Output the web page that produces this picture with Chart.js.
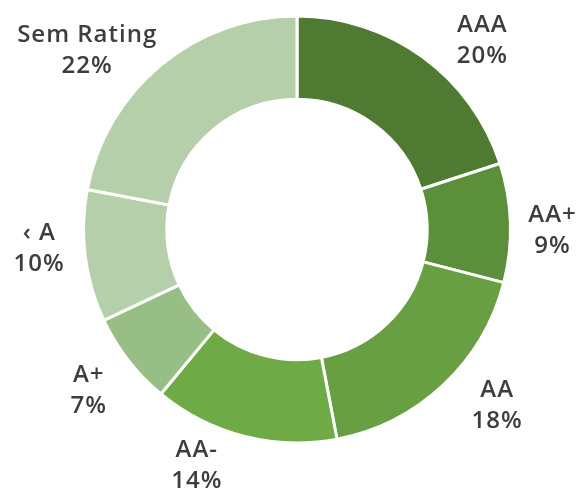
<!DOCTYPE html>
<html>
<head>
<meta charset="utf-8">
<script src="https://cdn.jsdelivr.net/npm/chart.js@4.4.1/dist/chart.umd.min.js"></script>
<style>
  html, body { margin: 0; padding: 0; background: #ffffff; }
  #wrap { width: 581px; height: 492px; position: relative; }
</style>
</head>
<body>
<div id="wrap"><canvas id="ratingChart" width="581" height="492"></canvas></div>
<script>
// Chart data
const categories = ['AAA', 'AA+', 'AA', 'AA-', 'A+', '‹ A', 'Sem Rating'];
const shares = [20, 9, 18, 14, 7, 10, 22];
const sliceColors = ['#4f7a31', '#5b8f39', '#679f42', '#6eab46', '#97bf85', '#b5cfaa', '#b5cfaa'];

// Outside labels: name on top, percent below, placed around each slice's middle angle
const outsideLabels = {
    id: 'outsideLabels',
    afterDatasetsDraw(chart, args, opts) {
        const ctx = chart.ctx;
        const meta = chart.getDatasetMeta(0);
        ctx.save();
        ctx.fillStyle = opts.color;
        ctx.font = opts.font;
        if ('letterSpacing' in ctx) ctx.letterSpacing = opts.spacing;
        ctx.textAlign = 'center';
        ctx.textBaseline = 'middle';
        meta.data.forEach((arc, i) => {
            const p = arc.getProps(['x', 'y', 'startAngle', 'endAngle', 'outerRadius'], true);
            const [turn, gap] = opts.offsets[i];
            const mid = (p.startAngle + p.endAngle) / 2 + turn * Math.PI / 180;
            const r = p.outerRadius + gap;
            const cx = p.x + Math.cos(mid) * r;
            const cy = p.y + Math.sin(mid) * r;
            ctx.fillText(categories[i], cx, cy - opts.lineGap / 2);
            ctx.fillText(shares[i] + '%', cx, cy + opts.lineGap / 2);
        });
        ctx.restore();
    }
};

const ctx = document.getElementById('ratingChart').getContext('2d');
new Chart(ctx, {
    type: 'doughnut',
    data: {
        labels: categories,
        datasets: [{
            data: shares,
            backgroundColor: sliceColors,
            borderColor: '#ffffff',
            borderWidth: 3
        }]
    },
    options: {
        responsive: false,
        animation: false,
        cutout: '61%',
        layout: { padding: { top: 14, bottom: 47, left: 82, right: 69 } },
        plugins: {
            legend: { display: false },
            tooltip: { enabled: false },
            outsideLabels: {
                color: '#3d3d3d',
                font: '600 24px "Open Sans"',
                spacing: '1px',
                lineGap: 31,
                // [angle turn in degrees, distance beyond the ring]
                offsets: [[8.5, 51], [2, 42], [-5.5, 53], [8.6, 43], [0, 50], [3, 45], [-10, 62]]
            }
        }
    },
    plugins: [outsideLabels]
});
</script>
</body>
</html>
